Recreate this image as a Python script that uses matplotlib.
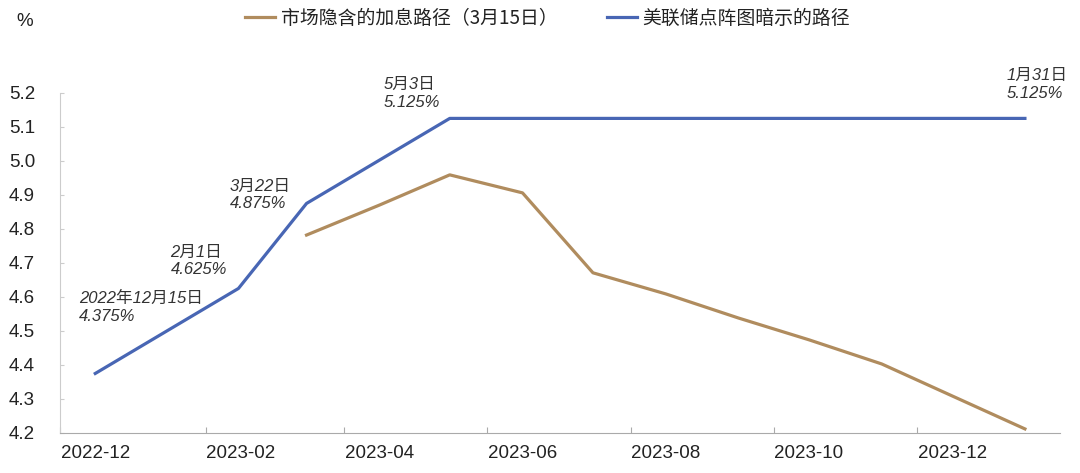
import matplotlib
matplotlib.use('Agg')
import matplotlib.pyplot as plt
import numpy as np
import pandas as pd

plt.rcParams['font.family'] = ['Liberation Sans', 'Noto Sans CJK SC', 'DejaVu Sans']

# market implied path (as of 3/15), plotted at mid-month
market_dates = ['2023-03-16', '2023-04-16', '2023-05-16', '2023-06-16', '2023-07-16',
                '2023-08-16', '2023-09-16', '2023-10-16', '2023-11-16', '2023-12-16',
                '2024-01-16']
market_vals = [4.782, 4.870, 4.959, 4.906, 4.671, 4.609, 4.538, 4.474, 4.403, 4.309, 4.212]

# fed dot plot path
fed_dates = ['2022-12-16', '2023-02-15', '2023-03-16', '2023-05-16', '2024-01-16']
fed_vals = [4.375, 4.625, 4.875, 5.125, 5.125]
fed_notes = ['2022年12月15日\n4.375%', '2月1日\n4.625%', '3月22日\n4.875%',
             '5月3日\n5.125%', '1月31日\n5.125%']
note_offsets = [(-16, 83), (-68, 44), (-77, 25), (-66, 41), (-18, 50)]

legend_labels = ['市场隐含的加息路径（3月15日）', '美联储点阵图暗示的路径']
tick_months = ['2022-12', '2023-02', '2023-04', '2023-06', '2023-08', '2023-10', '2023-12']

brown = '#b08c5e'
blue = '#4866b4'
txt = '#222222'

fig = plt.figure(figsize=(10.8, 4.73), dpi=100)
ax = fig.add_axes([0.0556, 0.0846, 0.9260, 0.7190])

md = pd.to_datetime(market_dates)
fd = pd.to_datetime(fed_dates)
l1, = ax.plot(md, market_vals, color=brown, lw=2.3, solid_joinstyle='round')
l2, = ax.plot(fd, fed_vals, color=blue, lw=2.3, solid_joinstyle='round')

for d, v, s, off in zip(fd, fed_vals, fed_notes, note_offsets):
    ax.annotate(s, xy=(d, v), xytext=off, textcoords='offset pixels',
                ha='left', va='top', fontsize=12, style='italic', color='#333333',
                linespacing=1.25)

ax.set_ylim(4.2, 5.2)
ax.set_yticks(np.arange(4.2, 5.21, 0.1))
ax.set_yticklabels(['%.1f' % v for v in np.arange(4.2, 5.21, 0.1)])
ax.set_xlim(pd.Timestamp('2022-12-01'), pd.Timestamp('2024-01-31'))

major = pd.to_datetime([m + '-01' for m in tick_months])
minor = pd.to_datetime([m + '-16' for m in tick_months])
ax.set_xticks(major)
ax.set_xticklabels([])
ax.set_xticks(minor, minor=True)
ax.set_xticklabels(tick_months, minor=True)
ax.tick_params(axis='x', which='major', direction='in', length=4, color='#aaaaaa')
ax.tick_params(axis='x', which='minor', length=0, pad=9, labelsize=13.5, labelcolor=txt)
ax.tick_params(axis='y', direction='in', length=3, color='#cccccc', pad=18,
               labelsize=13.5, labelcolor=txt)

for sp in ['top', 'right']:
    ax.spines[sp].set_visible(False)
ax.spines['left'].set_color('#cccccc')
ax.spines['bottom'].set_color('#aaaaaa')

fig.text(25 / 1080, 1 - 22 / 473, '%', ha='center', va='center', fontsize=13.5, color=txt)

fig.legend([l1, l2], legend_labels, loc='center', bbox_to_anchor=(0.507, 1 - 18 / 473),
           ncol=2, frameon=False, handlelength=1.6, handletextpad=0.3,
           columnspacing=2.6, labelcolor=txt, prop={'family': ['Noto Sans CJK SC'], 'size': 13.6})

fig.savefig('out.png', dpi=100)
